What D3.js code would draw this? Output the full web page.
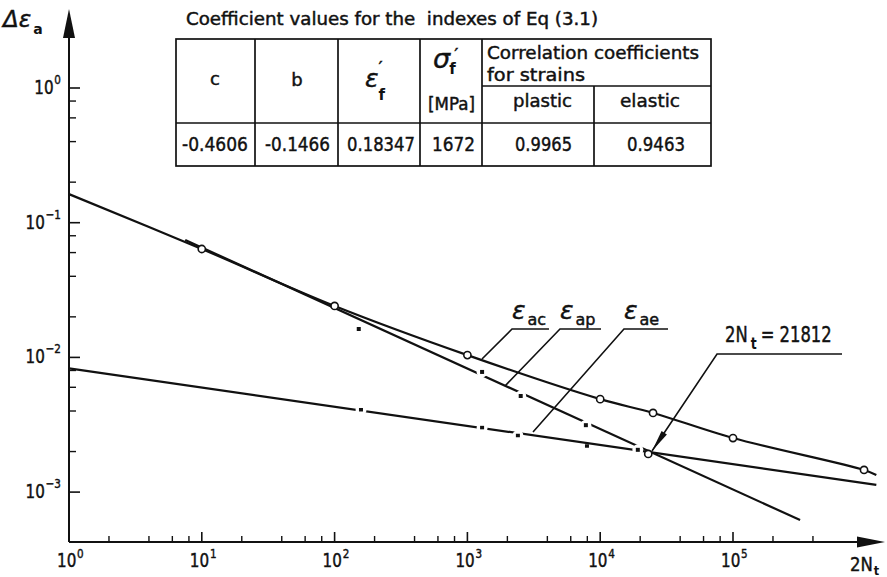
<!DOCTYPE html>
<html><head><meta charset="utf-8">
<script src="https://cdn.jsdelivr.net/npm/d3@7"></script>
<style>
body{margin:0;background:#fff}
svg{display:block;background:#fff}
text{font-family:"DejaVu Sans",sans-serif;fill:#111;stroke:#111;stroke-width:0.45px}
</style>
</head><body>
<svg id="c" width="887" height="577"></svg>
<script>
// ---------- data ----------
const xTickExponents = [0, 1, 2, 3, 4, 5];
const yTickExponents = [0, -1, -2, -3];
const xMinorMult = [2, 4, 6, 8];
const xExtraMinor = [2e5, 4e5];
const yMinorMult = [2, 4, 6, 8];

// total strain curve (eps_ac)
const totalN = [1, 10, 100, 1000, 1e4, 2.5e4, 1e5, 9.7e5, 1.2e6];
const totalV = [0.163, 0.0638, 0.0241, 0.0104, 0.0049, 0.00387, 0.00252, 0.00146, 0.00134];
const circleN = [10, 100, 1000, 1e4, 2.5e4, 1e5, 9.7e5];
const circleV = [0.0638, 0.0241, 0.0104, 0.0049, 0.00387, 0.00252, 0.00146];

// plastic strain line (eps_ap)
const plasticN = [7.5, 3.2e5];
const plasticV = [0.0744, 0.00062];
const plasticPtN = [152, 1290, 2520, 7800, 19200];
const plasticPtV = [0.01625, 0.0078, 0.00517, 0.00314, 0.00206];

// elastic strain line (eps_ae)
const elasticN = [1, 1.2e6];
const elasticV = [0.0083, 0.00113];
const elasticPtN = [158, 1290, 2400, 7950];
const elasticPtV = [0.00407, 0.0030, 0.00262, 0.00219];

// transition point
const transN = 23000, transV = 0.00192;

// table
const tableTitle = "Coefficient values for the\u00a0 indexes of Eq (3.1)";
const tableValues = ["-0.4606", "-0.1466", "0.18347", "1672", "0.9965", "0.9463"];

// annotation leaders [N, value] : on-curve point, elbow, end
const leadAc = [[1288, 0.00973], [2168, 0.01625], [4115, 0.01625]];
const leadAp = [[1919, 0.00614], [4980, 0.01625], [10140, 0.01625]];
const leadAe = [[3119, 0.00279], [15100, 0.01625], [32400, 0.01625]];
const leadNt = [[24550, 0.00202], [75800, 0.0106], [662000, 0.0106]];

// ---------- scales ----------
const svg = d3.select("#c");
const x = d3.scaleLog().domain([1, 1e6]).range([69, 69 + 6 * 132.8]);
const y = d3.scaleLog().domain([1, 1e-3]).range([88, 88 + 3 * 134.7]);
const X0 = 69, Y0 = 542;
const ink = "#111";

function txt(g, px, py, s, o = {}) {
  const t = g.append("text").attr("x", px).attr("y", py).text(s)
    .attr("font-size", o.size || 17).attr("text-anchor", o.anchor || "start");
  if (o.w) t.attr("textLength", o.w).attr("lengthAdjust", "spacingAndGlyphs");
  if (o.italic) t.attr("font-style", "italic");
  if (o.weight) t.attr("font-weight", o.weight);
  return t;
}
// text made of parts (tspans), placed with a translate + horizontal squeeze
function rich(g, px, py, parts, o = {}) {
  const t = g.append("text")
    .attr("transform", `translate(${px},${py}) scale(${o.sx || 1},1)`)
    .attr("text-anchor", o.anchor || "start");
  parts.forEach(p => {
    const s = t.append("tspan").text(p.t).attr("font-size", p.size || 17);
    if (p.dx) s.attr("dx", p.dx);
    if (p.dy) s.attr("dy", p.dy);
    if (p.italic) s.attr("font-style", "italic");
    if (p.bold) s.attr("font-weight", "bold").style("stroke-width", "0px");
  });
  return t;
}

// ---------- axes ----------
const ax = svg.append("g").attr("stroke", ink).attr("fill", "none");
ax.append("line").attr("x1", X0).attr("x2", X0).attr("y1", Y0).attr("y2", 36).attr("stroke-width", 2);
svg.append("path").attr("d", `M${X0},9 L${X0 - 6},38 L${X0 + 6},38 Z`).attr("fill", ink);
ax.append("line").attr("x1", X0).attr("x2", 860).attr("y1", Y0).attr("y2", Y0).attr("stroke-width", 2);
svg.append("path").attr("d", `M885,${Y0} L857,${Y0 - 5.5} L857,${Y0 + 5.5} Z`).attr("fill", ink);

const xMajor = xTickExponents.map(e => Math.pow(10, e));
const xMinor = [];
xTickExponents.slice(0, 5).forEach(e => xMinorMult.forEach(m => xMinor.push(m * Math.pow(10, e))));
xExtraMinor.forEach(v => xMinor.push(v));
xMajor.forEach(v => ax.append("line").attr("x1", x(v)).attr("x2", x(v)).attr("y1", Y0).attr("y2", Y0 - 10).attr("stroke-width", 1.6));
xMinor.forEach(v => ax.append("line").attr("x1", x(v)).attr("x2", x(v)).attr("y1", Y0).attr("y2", Y0 - 6).attr("stroke-width", 1.4));
const yMajor = yTickExponents.map(e => Math.pow(10, e));
const yMinor = [];
[-1, -2, -3].forEach(e => yMinorMult.forEach(m => yMinor.push(m * Math.pow(10, e))));
yMajor.forEach(v => ax.append("line").attr("x1", X0).attr("x2", X0 + 11).attr("y1", y(v)).attr("y2", y(v)).attr("stroke-width", 1.6));
yMinor.forEach(v => ax.append("line").attr("x1", X0).attr("x2", X0 + 7).attr("y1", y(v)).attr("y2", y(v)).attr("stroke-width", 1.4));

// x tick labels
xTickExponents.forEach(e => {
  const px = x(Math.pow(10, e));
  rich(svg, px - 12, 567, [{ t: "10", size: 19 }, { t: String(e), size: 13, dx: 1, dy: -9 }], { sx: 0.8 });
});
// y tick labels
yTickExponents.forEach(e => {
  const py = y(Math.pow(10, e));
  const sup = e === 0 ? "0" : "\u2212" + (-e);
  rich(svg, 61, py + 6, [{ t: "10", size: 19 }, { t: sup, size: 13, dx: 1, dy: -10 }], { sx: 0.8, anchor: "end" });
});
// axis titles
rich(svg, 3, 27, [{ t: "\u0394\u03b5", size: 23, italic: true }, { t: "a", size: 14, bold: true, dx: 2, dy: 7 }]);
rich(svg, 850, 571, [{ t: "2N", size: 19 }, { t: "t", size: 13, bold: true, dx: 1, dy: 4 }], { sx: 0.87 });

// ---------- curves ----------
const lineGen = d3.line().x(d => x(d[0])).y(d => y(d[1]));
const plot = svg.append("g");
const elasticData = elasticN.map((n, i) => [n, elasticV[i]]);
const plasticData = plasticN.map((n, i) => [n, plasticV[i]]);
plot.append("path").datum(elasticData).attr("d", lineGen).attr("fill", "none").attr("stroke", ink).attr("stroke-width", 2.2);
plot.append("path").datum(plasticData).attr("d", lineGen).attr("fill", "none").attr("stroke", ink).attr("stroke-width", 2.2);
const gapPts = plasticPtN.map((n, i) => [n, plasticPtV[i]]).concat(elasticPtN.slice(0, 3).map((n, i) => [n, elasticPtV[i]]));
plot.selectAll("circle.gap").data(gapPts).join("circle").attr("class", "gap")
  .attr("cx", d => x(d[0])).attr("cy", d => y(d[1])).attr("r", 5.5).attr("fill", "#fff");

const totalData = totalN.map((n, i) => [n, totalV[i]]);
plot.append("path").datum(totalData)
  .attr("d", d3.line().x(d => x(d[0])).y(d => y(d[1])).curve(d3.curveCatmullRom))
  .attr("fill", "none").attr("stroke", ink).attr("stroke-width", 2.2);

plot.selectAll("rect.pp").data(plasticPtN.map((n, i) => [n, plasticPtV[i]])).join("rect").attr("class", "pp")
  .attr("x", d => x(d[0]) - 2).attr("y", d => y(d[1]) - 2).attr("width", 4).attr("height", 4).attr("fill", ink);
plot.selectAll("rect.ep").data(elasticPtN.map((n, i) => [n, elasticPtV[i]])).join("rect").attr("class", "ep")
  .attr("x", d => x(d[0]) - 2).attr("y", d => y(d[1]) - 2).attr("width", 4).attr("height", 3.5).attr("fill", ink);
plot.selectAll("circle.tc").data(circleN.map((n, i) => [n, circleV[i]])).join("circle").attr("class", "tc")
  .attr("cx", d => x(d[0])).attr("cy", d => y(d[1])).attr("r", 3.6)
  .attr("fill", "#fff").attr("stroke", ink).attr("stroke-width", 1.6);
plot.append("circle").attr("cx", x(transN)).attr("cy", y(transV)).attr("r", 3.6)
  .attr("fill", "#fff").attr("stroke", ink).attr("stroke-width", 1.6);

// ---------- annotations ----------
const ann = svg.append("g");
const leaderGen = d3.line().x(d => x(d[0])).y(d => y(d[1]));
[leadAc, leadAp, leadAe, leadNt].forEach(L => {
  ann.append("path").datum(L).attr("d", leaderGen).attr("fill", "none").attr("stroke", ink).attr("stroke-width", 1.6);
});
{
  const tx = x(leadNt[0][0]), ty = y(leadNt[0][1]);
  const ex = x(leadNt[1][0]), ey = y(leadNt[1][1]);
  const L = Math.hypot(ex - tx, ey - ty), ux = (ex - tx) / L, uy = (ey - ty) / L;
  const bx = tx + ux * 22, by = ty + uy * 22, w = 3.2;
  ann.append("path").attr("d", `M${tx},${ty} L${bx - uy * w},${by + ux * w} L${bx + uy * w},${by - ux * w} Z`).attr("fill", ink);
}
function epsLabel(L, sub) {
  const ex = x(L[1][0]), ey = y(L[1][1]);
  rich(ann, ex, ey - 10, [{ t: "\u03b5", size: 25, italic: true }, { t: sub, size: 16, dx: 2, dy: 6 }]);
}
epsLabel(leadAc, "ac");
epsLabel(leadAp, "ap");
epsLabel(leadAe, "ae");
{
  const ex = x(leadNt[1][0]), ey = y(leadNt[1][1]);
  rich(ann, ex + 8, ey - 12, [
    { t: "2N", size: 21 },
    { t: "t", size: 16, bold: true, dx: 4, dy: 7 },
    { t: "= 21812", size: 21, dx: 5, dy: -7 }
  ], { sx: 0.78 });
}

// ---------- table ----------
const tb = svg.append("g");
const tl = tb.append("g").attr("stroke", ink).attr("stroke-width", 1.7).attr("fill", "none");
tl.append("rect").attr("x", 176).attr("y", 39).attr("width", 535).attr("height", 127);
tl.append("line").attr("x1", 176).attr("x2", 711).attr("y1", 123).attr("y2", 123);
[255, 338, 420, 482].forEach(v => tl.append("line").attr("x1", v).attr("x2", v).attr("y1", 39).attr("y2", 166));
tl.append("line").attr("x1", 594).attr("x2", 594).attr("y1", 86).attr("y2", 166);
tl.append("line").attr("x1", 482).attr("x2", 711).attr("y1", 86).attr("y2", 86);

txt(tb, 186, 25, tableTitle, { size: 17, w: 412 });
txt(tb, 215, 85, "c", { size: 18, anchor: "middle" });
txt(tb, 297, 86, "b", { size: 18, anchor: "middle" });
rich(tb, 365, 87, [
  { t: "\u03b5", size: 25, italic: true },
  { t: "\u2032", size: 18, dx: 0, dy: -13 },
  { t: "f", size: 15, bold: true, dx: -4, dy: 26 }
]);
rich(tb, 433, 68, [
  { t: "\u03c3", size: 27, italic: true },
  { t: "\u2032", size: 18, dx: 4, dy: -7 },
  { t: "f", size: 15, bold: true, dx: -9, dy: 13 }
]);
txt(tb, 428, 110, "[MPa]", { size: 17, w: 47 });
txt(tb, 487, 59, "Correlation coefficients", { size: 18, w: 212 });
txt(tb, 487, 81, "for strains", { size: 18, w: 98 });
txt(tb, 513, 107, "plastic", { size: 18, w: 59 });
txt(tb, 620, 107, "elastic", { size: 18, w: 60 });
const valPos = [[182, 66], [265, 65], [347, 68], [432, 43], [515, 57], [627, 58]];
tableValues.forEach((s, i) => txt(tb, valPos[i][0], 151, s, { size: 20, w: valPos[i][1] }));
</script>
</body></html>
